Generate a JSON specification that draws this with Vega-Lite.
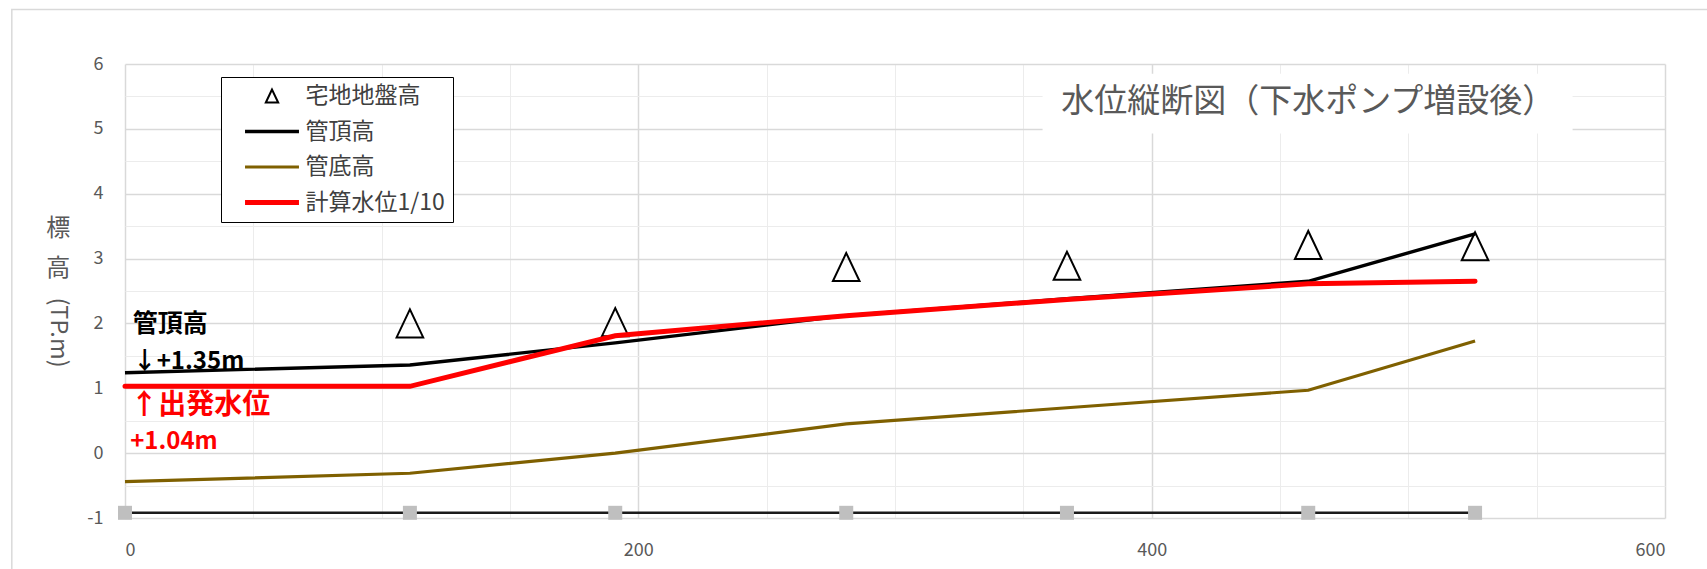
{
  "$schema": "https://vega.github.io/schema/vega-lite/v6.json",
  "width": 1540,
  "height": 454,
  "autosize": {"type": "none"},
  "padding": {"left": 125, "top": 64, "right": 42, "bottom": 51},
  "background": "white",
  "config": {
    "view": {"stroke": null},
    "font": "Noto Sans CJK JP",
    "text": {"font": "Noto Sans CJK JP"}
  },
  "datasets": {
    "lines": [
      {"s": "管頂高", "x": 0, "y": 1.24},
      {"s": "管頂高", "x": 111, "y": 1.36},
      {"s": "管頂高", "x": 191, "y": 1.70},
      {"s": "管頂高", "x": 281, "y": 2.12},
      {"s": "管頂高", "x": 367, "y": 2.38},
      {"s": "管頂高", "x": 461, "y": 2.65},
      {"s": "管頂高", "x": 526, "y": 3.38},
      {"s": "管底高", "x": 0, "y": -0.44},
      {"s": "管底高", "x": 111, "y": -0.31},
      {"s": "管底高", "x": 191, "y": 0.0},
      {"s": "管底高", "x": 281, "y": 0.45},
      {"s": "管底高", "x": 367, "y": 0.70},
      {"s": "管底高", "x": 461, "y": 0.97},
      {"s": "管底高", "x": 526, "y": 1.73},
      {"s": "計算水位1/10", "x": 0, "y": 1.03},
      {"s": "計算水位1/10", "x": 111, "y": 1.03},
      {"s": "計算水位1/10", "x": 191, "y": 1.81},
      {"s": "計算水位1/10", "x": 281, "y": 2.12},
      {"s": "計算水位1/10", "x": 367, "y": 2.37},
      {"s": "計算水位1/10", "x": 461, "y": 2.61},
      {"s": "計算水位1/10", "x": 526, "y": 2.65}
    ],
    "ground": [
      {"s": "宅地地盤高", "x": 111, "y": 2.0},
      {"s": "宅地地盤高", "x": 191, "y": 2.02},
      {"s": "宅地地盤高", "x": 281, "y": 2.87},
      {"s": "宅地地盤高", "x": 367, "y": 2.89},
      {"s": "宅地地盤高", "x": 461, "y": 3.21},
      {"s": "宅地地盤高", "x": 526, "y": 3.19}
    ],
    "base": [
      {"x": 0, "y": -0.92},
      {"x": 111, "y": -0.92},
      {"x": 191, "y": -0.92},
      {"x": 281, "y": -0.92},
      {"x": 367, "y": -0.92},
      {"x": 461, "y": -0.92},
      {"x": 526, "y": -0.92}
    ]
  },
  "encoding": {
    "x": {
      "field": "x",
      "type": "quantitative",
      "scale": {"domain": [0, 600], "nice": false, "zero": false},
      "axis": {
        "title": null,
        "values": [0, 50, 100, 150, 200, 250, 300, 350, 400, 450, 500, 550, 600],
        "labelExpr": "datum.value % 200 === 0 ? toString(datum.value) : ''",
        "grid": true,
        "gridColor": {"condition": {"test": "datum.value % 200 === 0", "value": "#d9d9d9"}, "value": "#ececec"},
        "gridWidth": {"condition": {"test": "datum.value % 200 === 0", "value": 1.5}, "value": 1},
        "ticks": false,
        "domain": false,
        "labelFontSize": 18,
        "labelColor": "#595959",
        "labelPadding": 23,
        "labelFont": "Noto Sans CJK JP"
      }
    },
    "y": {
      "field": "y",
      "type": "quantitative",
      "scale": {"domain": [-1, 6], "nice": false, "zero": false},
      "axis": {
        "title": null,
        "values": [-1, -0.5, 0, 0.5, 1, 1.5, 2, 2.5, 3, 3.5, 4, 4.5, 5, 5.5, 6],
        "labelExpr": "datum.value % 1 === 0 ? toString(datum.value) : ''",
        "grid": true,
        "gridColor": {"condition": {"test": "datum.value % 1 === 0", "value": "#d9d9d9"}, "value": "#ececec"},
        "gridWidth": {"condition": {"test": "datum.value % 1 === 0", "value": 1.5}, "value": 1},
        "ticks": false,
        "domain": false,
        "labelFontSize": 18,
        "labelColor": "#595959",
        "labelPadding": 22,
        "labelFont": "Noto Sans CJK JP"
      }
    }
  },
  "layer": [
    {
      "data": {"values": [{"x": -44.1, "x2": 700, "y": 6.84, "y2": -3}]},
      "mark": {"type": "rect", "fill": null, "fillOpacity": 0, "stroke": "#d9d9d9", "strokeWidth": 1.5, "clip": false},
      "encoding": {"x2": {"field": "x2"}, "y2": {"field": "y2"}}
    },
    {
      "data": {"values": [{"x": 357.5, "x2": 564, "y": 5.85, "y2": 4.93}]},
      "mark": {"type": "rect", "fill": "white", "stroke": null},
      "encoding": {"x2": {"field": "x2"}, "y2": {"field": "y2"}}
    },
    {
      "data": {"values": [{"t": "水位縦断図（下水ポンプ増設後）", "x": 461, "y": 5.42}]},
      "mark": {"type": "text", "fontSize": 33, "color": "#595959", "align": "center", "baseline": "middle"},
      "encoding": {"text": {"field": "t"}}
    },
    {
      "data": {"name": "base"},
      "mark": {"type": "line", "color": "#1a1a1a", "strokeWidth": 2.5},
      "encoding": {}
    },
    {
      "data": {"name": "base"},
      "mark": {"type": "point", "shape": "square", "filled": true, "color": "#bfbfbf", "opacity": 1, "size": 196},
      "encoding": {}
    },
    {
      "data": {"name": "ground"},
      "mark": {"type": "point", "filled": false, "size": 784, "opacity": 1},
      "encoding": {
        "color": {
          "field": "s",
          "type": "nominal",
          "scale": {"domain": ["宅地地盤高", "管頂高", "管底高", "計算水位1/10"], "range": ["#000000", "#000000", "#7f6000", "#ff0000"]},
          "legend": {
            "title": null,
            "orient": "none",
            "legendX": 96,
            "legendY": 13,
            "padding": 7.5,
            "rowPadding": 11.5,
            "symbolSize": 169,
            "symbolOffset": 32,
            "labelOffset": 22,
            "labelFontSize": 23,
            "labelColor": "#404040",
            "labelFont": "Noto Sans CJK JP",
            "labelLimit": 400,
            "strokeColor": "#000000",
            "fillColor": "#ffffff"
          }
        },
        "shape": {
          "field": "s",
          "type": "nominal",
          "scale": {"domain": ["宅地地盤高", "管頂高", "管底高", "計算水位1/10"], "range": ["M0,-1L-0.95,1L0.95,1Z", "M-4.15,0H4.15", "M-4.15,0H4.15", "M-4.15,0H4.15"]},
          "legend": {
            "title": null,
            "orient": "none",
            "legendX": 96,
            "legendY": 13,
            "padding": 7.5,
            "rowPadding": 11.5,
            "symbolSize": 169,
            "symbolOffset": 32,
            "labelOffset": 22,
            "labelFontSize": 23,
            "labelColor": "#404040",
            "labelFont": "Noto Sans CJK JP",
            "labelLimit": 400,
            "strokeColor": "#000000",
            "fillColor": "#ffffff"
          }
        },
        "strokeWidth": {
          "field": "s",
          "type": "nominal",
          "scale": {"type": "ordinal", "domain": ["宅地地盤高", "管頂高", "管底高", "計算水位1/10"], "range": [2, 3.4, 3.2, 5]},
          "legend": {
            "title": null,
            "orient": "none",
            "legendX": 96,
            "legendY": 13,
            "padding": 7.5,
            "rowPadding": 11.5,
            "symbolSize": 169,
            "symbolOffset": 32,
            "labelOffset": 22,
            "labelFontSize": 23,
            "labelColor": "#404040",
            "labelFont": "Noto Sans CJK JP",
            "labelLimit": 400,
            "strokeColor": "#000000",
            "fillColor": "#ffffff"
          }
        }
      }
    },
    {
      "data": {"name": "lines"},
      "transform": [{"filter": "datum.s === '管底高'"}],
      "mark": {"type": "line", "strokeWidth": 3.2},
      "encoding": {"color": {"field": "s", "type": "nominal", "legend": null}}
    },
    {
      "data": {"name": "lines"},
      "transform": [{"filter": "datum.s === '管頂高'"}],
      "mark": {"type": "line", "strokeWidth": 3.4},
      "encoding": {"color": {"field": "s", "type": "nominal", "legend": null}}
    },
    {
      "data": {"name": "lines"},
      "transform": [{"filter": "datum.s === '計算水位1/10'"}],
      "mark": {"type": "line", "strokeWidth": 5, "strokeCap": "round"},
      "encoding": {"color": {"field": "s", "type": "nominal", "legend": null}}
    },
    {
      "data": {"values": [{"t": "管頂高", "x": 3, "y": 1.99}]},
      "mark": {"type": "text", "fontSize": 25, "fontWeight": "bold", "color": "#000000", "align": "left", "baseline": "middle"},
      "encoding": {"text": {"field": "t"}}
    },
    {
      "data": {"values": [{"t": "↓+1.35m", "x": 3, "y": 1.40}]},
      "mark": {"type": "text", "fontSize": 24, "fontWeight": "bold", "color": "#000000", "align": "left", "baseline": "middle"},
      "encoding": {"text": {"field": "t"}}
    },
    {
      "data": {"values": [{"t": "↑出発水位", "x": 2, "y": 0.72}]},
      "mark": {"type": "text", "fontSize": 28, "fontWeight": "bold", "color": "#ff0000", "align": "left", "baseline": "middle"},
      "encoding": {"text": {"field": "t"}}
    },
    {
      "data": {"values": [{"t": "+1.04m", "x": 2, "y": 0.17}]},
      "mark": {"type": "text", "fontSize": 24, "fontWeight": "bold", "color": "#ff0000", "align": "left", "baseline": "middle"},
      "encoding": {"text": {"field": "t"}}
    },
    {
      "data": {"values": [{"t": "標", "x": -26, "y": 3.46}, {"t": "高", "x": -26, "y": 2.84}]},
      "mark": {"type": "text", "fontSize": 24, "color": "#595959", "align": "center", "baseline": "middle"},
      "encoding": {"text": {"field": "t"}}
    },
    {
      "data": {"values": [{"t": "(TP.m)", "x": -26, "y": 1.86}]},
      "mark": {"type": "text", "fontSize": 23.5, "color": "#595959", "align": "center", "baseline": "middle", "angle": 90},
      "encoding": {"text": {"field": "t"}}
    }
  ]
}
